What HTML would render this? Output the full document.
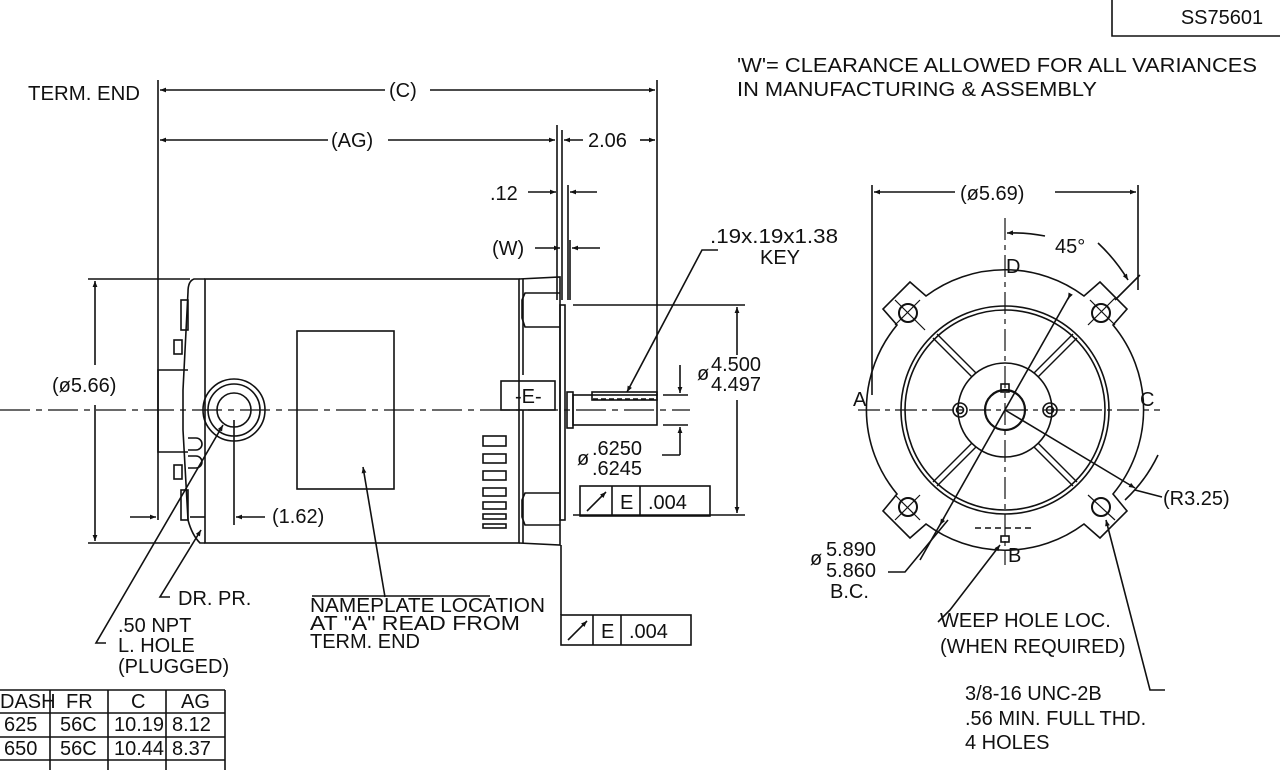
<!DOCTYPE html>
<html><head><meta charset="utf-8"><style>
html,body{margin:0;padding:0;background:#fff;}
svg{display:block;}
text{font-family:"Liberation Sans",sans-serif;fill:#111;font-size:20px;}
</style></head><body>
<svg width="1280" height="770" viewBox="0 0 1280 770" xmlns="http://www.w3.org/2000/svg">
<defs>
<marker id="a" viewBox="0 0 10 10" refX="10" refY="5" markerWidth="10" markerHeight="6" orient="auto-start-reverse" markerUnits="userSpaceOnUse"><path d="M0,1 L10,5 L0,9 z" fill="#111"/></marker>
</defs>
<g stroke="#111" stroke-width="1.6" fill="none">
<!-- title box -->
<path d="M1112,0 V36 H1280"/>
<!-- C dimension -->
<line x1="158" y1="80" x2="158" y2="520"/>
<line x1="657" y1="80" x2="657" y2="395"/>
<line x1="385" y1="90" x2="160" y2="90" marker-end="url(#a)"/>
<line x1="430" y1="90" x2="655" y2="90" marker-end="url(#a)"/>
<!-- AG -->
<line x1="328" y1="140" x2="160" y2="140" marker-end="url(#a)"/>
<line x1="388" y1="140" x2="555" y2="140" marker-end="url(#a)"/>
<line x1="557" y1="125" x2="557" y2="300"/>
<line x1="562" y1="130" x2="562" y2="300"/>
<line x1="583" y1="140" x2="564" y2="140" marker-end="url(#a)"/>
<line x1="640" y1="140" x2="655" y2="140" marker-end="url(#a)"/>
<!-- .12 and W -->
<line x1="528" y1="192" x2="556" y2="192" marker-end="url(#a)"/>
<line x1="597" y1="192" x2="570" y2="192" marker-end="url(#a)"/>
<line x1="568" y1="185" x2="568" y2="300"/>
<line x1="535" y1="248" x2="560" y2="248" marker-end="url(#a)"/>
<line x1="600" y1="248" x2="572" y2="248" marker-end="url(#a)"/>
<line x1="570" y1="240" x2="570" y2="300"/>
<!-- ø5.66 -->
<line x1="88" y1="279" x2="190" y2="279"/>
<line x1="88" y1="543" x2="190" y2="543"/>
<line x1="95" y1="365" x2="95" y2="281" marker-end="url(#a)"/>
<line x1="95" y1="405" x2="95" y2="541" marker-end="url(#a)"/>
<line x1="130" y1="517" x2="156" y2="517" marker-end="url(#a)"/>
<line x1="205" y1="517" x2="190" y2="517"/>
<!-- motor body -->
<rect x="205" y="279" width="314" height="264"/>
<path d="M205,279 H194 Q188,281 188,292 L183,390 L183,430 L188,520 Q192,535 200,543 H205"/>
<path d="M188,370 H158 V452 H188"/>
<rect x="181" y="300" width="7" height="30"/>
<rect x="181" y="490" width="7" height="30"/>
<rect x="174" y="340" width="8" height="14"/>
<rect x="174" y="465" width="8" height="14"/>
<path d="M188,438 h8 a6,6 0 0 1 0,12 h-8 M188,456 h8 a6,6 0 0 1 0,12 h-8"/>
<!-- conduit -->
<circle cx="234" cy="410" r="31"/>
<circle cx="234" cy="410" r="26"/>
<circle cx="234" cy="410" r="17"/>
<!-- nameplate -->
<rect x="297" y="331" width="97" height="158"/>
<!-- end bell -->
<path d="M519,279 L560,277 V545 L519,543"/>
<line x1="523" y1="279" x2="523" y2="375"/>
<line x1="523" y1="410" x2="523" y2="543"/>
<path d="M560,293 H525 L522,300 V318 L525,327 H560"/>
<path d="M560,493 H525 L522,500 V517 L525,525 H560"/>
<rect x="560" y="305" width="5" height="215"/>
<rect x="567" y="392" width="6" height="36"/>
<!-- vents -->
<rect x="483" y="436" width="23" height="10"/>
<rect x="483" y="454" width="23" height="9"/>
<rect x="483" y="471" width="23" height="9"/>
<rect x="483" y="488" width="23" height="8"/>
<rect x="483" y="502" width="23" height="7"/>
<rect x="483" y="514" width="23" height="5"/>
<rect x="483" y="524" width="23" height="4"/>
<!-- E box -->
<rect x="501" y="381" width="54" height="29"/>
<!-- shaft -->
<rect x="573" y="395" width="84" height="30"/>
<rect x="592" y="392" width="65" height="8"/>
<line x1="593" y1="399" x2="657" y2="399" stroke-dasharray="5,3"/>
<!-- centerline -->
<line x1="0" y1="410" x2="690" y2="410" stroke-dasharray="30,6,6,6" stroke-width="1.2"/>
<!-- ø4.5 -->
<line x1="573" y1="305" x2="745" y2="305"/>
<line x1="573" y1="515" x2="745" y2="515"/>
<line x1="737" y1="355" x2="737" y2="307" marker-end="url(#a)"/>
<line x1="737" y1="400" x2="737" y2="513" marker-end="url(#a)"/>
<!-- shaft dia -->
<line x1="663" y1="395" x2="688" y2="395"/>
<line x1="663" y1="425" x2="688" y2="425"/>
<line x1="680" y1="365" x2="680" y2="393" marker-end="url(#a)"/>
<line x1="680" y1="455" x2="680" y2="427" marker-end="url(#a)"/>
<line x1="662" y1="455" x2="680" y2="455"/>
<!-- FCF boxes -->
<rect x="580" y="486" width="130" height="30"/>
<line x1="612" y1="486" x2="612" y2="516"/><line x1="640" y1="486" x2="640" y2="516"/>
<line x1="587" y1="511" x2="606" y2="492" marker-end="url(#a)"/>
<rect x="561" y="615" width="130" height="30"/>
<line x1="593" y1="615" x2="593" y2="645"/><line x1="621" y1="615" x2="621" y2="645"/>
<line x1="568" y1="640" x2="587" y2="621" marker-end="url(#a)"/>
<line x1="561" y1="545" x2="561" y2="615"/>
<!-- key leader -->
<polyline points="718,250 702,250 627,392" marker-end="url(#a)"/>
<!-- 1.62 -->
<line x1="234" y1="420" x2="234" y2="525"/>
<line x1="265" y1="517" x2="236" y2="517" marker-end="url(#a)"/>
<!-- leaders -->
<polyline points="170,597 160,597 201,530" marker-end="url(#a)"/>
<polyline points="106,643 96,643 223,425" marker-end="url(#a)"/>
<line x1="385" y1="597" x2="363" y2="467" marker-end="url(#a)"/>
<line x1="312" y1="596" x2="490" y2="596"/>

<!-- END VIEW -->
<line x1="872" y1="185" x2="872" y2="395"/>
<line x1="1138" y1="185" x2="1138" y2="290"/>
<line x1="955" y1="192" x2="874" y2="192" marker-end="url(#a)"/>
<line x1="1055" y1="192" x2="1136" y2="192" marker-end="url(#a)"/>
<line x1="1005" y1="218" x2="1005" y2="565" stroke-dasharray="22,5,5,5" stroke-width="1.2"/>
<line x1="858" y1="410" x2="1160" y2="410" stroke-dasharray="22,5,5,5" stroke-width="1.2"/>
<path d="M1045,236 A175,175 0 0 0 1007,233" marker-end="url(#a)"/>
<path d="M1098,243 A175,175 0 0 1 1128,280" marker-end="url(#a)"/>
<line x1="1115" y1="300" x2="1140" y2="275"/>
<!-- flange outline with ears -->
<path d="M926,296 A132,132 0 0 1 1084,296 L1100,282 L1127,309 L1113,325 A132,132 0 0 1 1113,494 L1127,511 L1100,538 L1084,524 A132,132 0 0 1 926,524 L910,538 L883,511 L897,494 A132,132 0 0 1 897,325 L883,309 L910,282 Z"/>
<circle cx="1005" cy="410" r="104"/>
<circle cx="1005" cy="410" r="100"/>
<circle cx="1005" cy="410" r="47"/>
<circle cx="1005" cy="410" r="20" stroke-width="2.2"/>
<rect x="1001" y="384" width="8" height="8"/>
<circle cx="960" cy="410" r="7"/><circle cx="960" cy="410" r="3.5"/>
<circle cx="1050" cy="410" r="7"/><circle cx="1050" cy="410" r="3.5"/>
<g stroke-width="2">
<circle cx="908" cy="313" r="9"/><circle cx="1101" cy="313" r="9"/>
<circle cx="908" cy="507" r="9"/><circle cx="1101" cy="507" r="9"/>
</g>
<g stroke-width="1.2">
<line x1="895" y1="300" x2="925" y2="330"/><line x1="895" y1="325" x2="920" y2="300"/>
<line x1="1088" y1="325" x2="1115" y2="298"/><line x1="1090" y1="300" x2="1115" y2="325"/>
<line x1="895" y1="520" x2="920" y2="495"/><line x1="895" y1="495" x2="920" y2="520"/>
<line x1="1088" y1="495" x2="1115" y2="520"/>
</g>
<!-- ribs -->
<g stroke-width="1.4">
<line x1="933" y1="338" x2="972" y2="377"/><line x1="937" y1="334" x2="976" y2="373"/>
<line x1="1077" y1="338" x2="1038" y2="377"/><line x1="1073" y1="334" x2="1034" y2="373"/>
<line x1="933" y1="482" x2="972" y2="443"/><line x1="937" y1="486" x2="976" y2="447"/>
<line x1="1077" y1="482" x2="1038" y2="443"/><line x1="1073" y1="486" x2="1034" y2="447"/>
</g>
<!-- BC dia line -->
<line x1="920" y1="560" x2="1070" y2="295"/>
<line x1="1070" y1="295" x2="1068" y2="299" marker-end="url(#a)"/>
<line x1="944" y1="518" x2="940" y2="525" marker-end="url(#a)"/>
<polyline points="888,572 905,572 948,520"/>
<!-- R3.25 -->
<line x1="1005" y1="410" x2="1135" y2="488" marker-end="url(#a)"/>
<path d="M1158,455 A150,150 0 0 1 1125,500"/>
<line x1="1135" y1="490" x2="1162" y2="497"/>
<!-- weep -->
<line x1="975" y1="528" x2="1035" y2="528" stroke-dasharray="6,4"/>
<rect x="1001" y="536" width="8" height="6"/>
<polyline points="938,622 950,610 1000,545" marker-end="url(#a)"/>
<!-- thread leader -->
<polyline points="1165,690 1150,690 1106,520" marker-end="url(#a)"/>
<!-- table -->
<path d="M0,690 H225 M0,713 H225 M0,737 H225 M0,760 H225 M50,690 V770 M108,690 V770 M166,690 V770 M225,690 V770"/>
</g>
<g>
<text x="1222" y="24" text-anchor="middle" font-size="17">SS75601</text>
<text x="737" y="72" textLength="520" lengthAdjust="spacingAndGlyphs">'W'= CLEARANCE ALLOWED FOR ALL VARIANCES</text>
<text x="737" y="96" textLength="360" lengthAdjust="spacingAndGlyphs">IN MANUFACTURING &amp; ASSEMBLY</text>
<text x="28" y="100" textLength="112" lengthAdjust="spacingAndGlyphs">TERM. END</text>
<text x="389" y="97">(C)</text>
<text x="331" y="147">(AG)</text>
<text x="588" y="147">2.06</text>
<text x="490" y="200">.12</text>
<text x="492" y="255">(W)</text>
<text x="52" y="392">(ø5.66)</text>
<text x="515" y="403" font-size="18">-E-</text>
<text x="272" y="523">(1.62)</text>
<text x="710" y="243" textLength="128" lengthAdjust="spacingAndGlyphs">.19x.19x1.38</text>
<text x="760" y="264">KEY</text>
<text x="697" y="380" font-size="16">ø</text>
<text x="711" y="371">4.500</text>
<text x="711" y="391">4.497</text>
<text x="577" y="465" font-size="16">ø</text>
<text x="592" y="455">.6250</text>
<text x="592" y="475">.6245</text>
<text x="620" y="509">E</text><text x="648" y="509">.004</text>
<text x="601" y="638">E</text><text x="629" y="638">.004</text>
<text x="178" y="605">DR. PR.</text>
<text x="118" y="632">.50 NPT</text>
<text x="118" y="652">L. HOLE</text>
<text x="118" y="673">(PLUGGED)</text>
<text x="310" y="612" textLength="235" lengthAdjust="spacingAndGlyphs">NAMEPLATE LOCATION</text>
<text x="310" y="630" textLength="210" lengthAdjust="spacingAndGlyphs">AT "A" READ FROM</text>
<text x="310" y="648">TERM. END</text>
<text x="960" y="200">(ø5.69)</text>
<text x="1055" y="253">45°</text>
<text x="1006" y="273" font-size="17">D</text>
<text x="853" y="406" font-size="17">A</text>
<text x="1140" y="406" font-size="17">C</text>
<text x="1008" y="562" font-size="17">B</text>
<text x="1163" y="505">(R3.25)</text>
<text x="810" y="565" font-size="16">ø</text>
<text x="826" y="556">5.890</text>
<text x="826" y="577">5.860</text>
<text x="830" y="598">B.C.</text>
<text x="940" y="627">WEEP HOLE LOC.</text>
<text x="940" y="653">(WHEN REQUIRED)</text>
<text x="965" y="700">3/8-16 UNC-2B</text>
<text x="965" y="725">.56 MIN. FULL THD.</text>
<text x="965" y="749">4 HOLES</text>
<text x="0" y="708" font-size="16">DASH</text>
<text x="66" y="708" font-size="16">FR</text>
<text x="131" y="708" font-size="16">C</text>
<text x="181" y="708" font-size="16">AG</text>
<text x="4" y="731" font-size="16">625</text>
<text x="60" y="731" font-size="16">56C</text>
<text x="114" y="731" font-size="16">10.19</text>
<text x="172" y="731" font-size="16">8.12</text>
<text x="4" y="755" font-size="16">650</text>
<text x="60" y="755" font-size="16">56C</text>
<text x="114" y="755" font-size="16">10.44</text>
<text x="172" y="755" font-size="16">8.37</text>
</g>
</svg>
</body></html>
